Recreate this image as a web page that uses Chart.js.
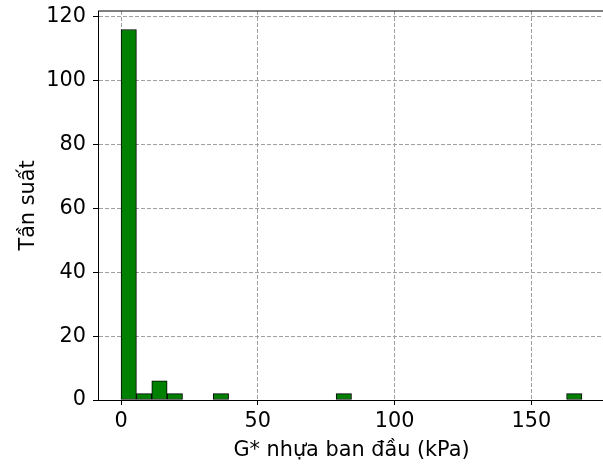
<!DOCTYPE html>
<html>
<head>
<meta charset="utf-8">
<script src="https://cdn.jsdelivr.net/npm/chart.js@4/dist/chart.umd.min.js"></script>
<style>
html,body{margin:0;padding:0;background:#fff;overflow:hidden;width:603px;height:465px;}
#wrap{position:absolute;left:0;top:0;width:612px;height:465px;}
</style>
</head>
<body>
<div id="wrap"><canvas id="c" width="612" height="465"></canvas></div>
<script>
// Histogram data (30 bins)
const histMin = 0;
const histMax = 168.5;
const counts = [116, 2, 6, 2, 0, 0, 2, 0, 0, 0, 0, 0, 0, 0, 2,
                0, 0, 0, 0, 0, 0, 0, 0, 0, 0, 0, 0, 0, 0, 2];
const xTicks = [0, 50, 100, 150];
const yTicks = [0, 20, 40, 60, 80, 100, 120];
const xLabel = 'G* nhựa ban đầu (kPa)';
const yLabel = 'Tần suất';

const nBins = counts.length;
const binW = (histMax - histMin) / nBins;
const points = counts.map((c, i) => ({x: histMin + (i + 0.5) * binW, y: c}));
const xPad = (histMax - histMin) * 0.05;
const yMax = Math.max(...counts) * 1.05;

const FONT = {family: 'DejaVu Sans', size: 20.8};

const framePlugin = {
  id: 'frame',
  afterDraw(chart) {
    const {ctx, chartArea: a} = chart;
    ctx.save();
    ctx.strokeStyle = '#000';
    ctx.lineWidth = 1;
    ctx.beginPath();
    ctx.moveTo(a.left, a.top);
    ctx.lineTo(a.right, a.top);
    ctx.lineTo(a.right, a.bottom);
    ctx.stroke();
    ctx.restore();
  }
};

new Chart(document.getElementById('c'), {
  type: 'bar',
  data: {
    datasets: [{
      data: points,
      backgroundColor: '#008000',
      borderColor: '#000',
      borderWidth: 1,
      borderSkipped: false,
      barPercentage: 1,
      categoryPercentage: 1
    }]
  },
  options: {
    responsive: false,
    animation: false,
    devicePixelRatio: 1,
    layout: {padding: {top: 11, right: 7, left: 0, bottom: 0}},
    plugins: {legend: {display: false}, tooltip: {enabled: false}},
    scales: {
      x: {
        type: 'linear',
        offset: false,
        min: histMin - xPad,
        max: histMax + xPad,
        afterFit(s) { s.height = 65; s.paddingLeft = 0; s.paddingRight = 0; },
        afterBuildTicks(s) { s.ticks = xTicks.map(v => ({value: v})); },
        ticks: {font: FONT, color: '#000', padding: 4, maxRotation: 0, includeBounds: false,
                callback: v => String(v)},
        grid: {offset: false, color: '#a0a0a0', lineWidth: 1, tickColor: '#000', tickLength: 5, tickWidth: 1},
        border: {display: true, color: '#000', width: 1, dash: [4, 2]},
        title: {display: true, text: xLabel, font: FONT, color: '#000', padding: {top: 0, bottom: 2}}
      },
      y: {
        min: 0,
        max: yMax,
        afterFit(s) { s.width = 98; s.paddingTop = 0; s.paddingBottom = 0; },
        afterBuildTicks(s) { s.ticks = yTicks.map(v => ({value: v})); },
        ticks: {font: FONT, color: '#000', padding: 7, includeBounds: false,
                callback: v => String(v)},
        grid: {color: '#a0a0a0', lineWidth: 1, tickColor: '#000', tickLength: 5, tickWidth: 1},
        border: {display: true, color: '#000', width: 1, dash: [4, 2]},
        title: {display: true, text: yLabel, font: FONT, color: '#000', padding: {top: 16, bottom: 0}}
      }
    }
  },
  plugins: [framePlugin]
});
</script>
</body>
</html>
